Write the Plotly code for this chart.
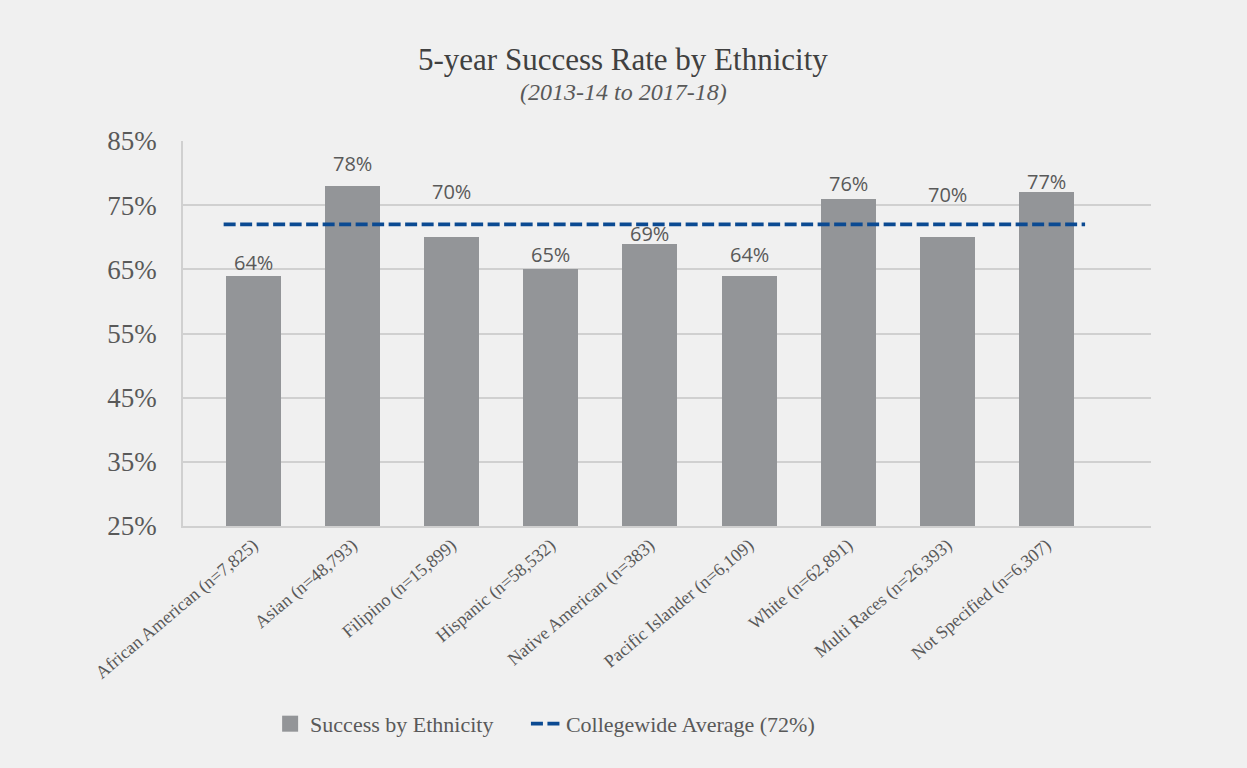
import plotly.graph_objects as go

# Five-year success rate by ethnicity (percent), 2013-14 to 2017-18
categories = [
    "African American (n=7,825)",
    "Asian (n=48,793)",
    "Filipino (n=15,899)",
    "Hispanic (n=58,532)",
    "Native American (n=383)",
    "Pacific Islander (n=6,109)",
    "White (n=62,891)",
    "Multi Races (n=26,393)",
    "Not Specified (n=6,307)",
]
success_rate = [64, 78, 70, 65, 69, 64, 76, 70, 77]
collegewide_avg = 72
y_ticks = [25, 35, 45, 55, 65, 75, 85]

# label offsets above each bar top, in pixels
label_shift = [13, 22, 46, 15, 10, 21, 15, 43, 11]

BG = "#f0f0f0"
BAR = "#939598"
BLUE = "#0b4a92"
TXT = "#595959"
SERIF = "Liberation Serif, Times New Roman, serif"
SANS = "Open Sans, Noto Sans, sans-serif"
NBSP = "\u00a0"

x_idx = list(range(len(categories)))

fig = go.Figure()
fig.add_trace(go.Bar(
    x=x_idx, y=success_rate, width=0.555,
    marker=dict(color=BAR, line=dict(width=0)),
    name="Success by Ethnicity", showlegend=False,
))
# legend swatch for the bars (larger square than the default bar icon)
fig.add_trace(go.Scatter(
    x=[None], y=[None], mode="markers",
    marker=dict(symbol="square", size=17, color=BAR),
    name="Success by Ethnicity" + NBSP * 5,
))

line_x = [-0.3, len(categories) - 0.61]
fig.add_trace(go.Scatter(
    x=line_x, y=[collegewide_avg] * 2, mode="lines",
    line=dict(color=BLUE, width=3.8, dash="12px,4.5px"),
    name=f"Collegewide Average ({collegewide_avg}%)",
))

for i, v in enumerate(success_rate):
    fig.add_annotation(
        x=i, y=v, text=f"{v}%", showarrow=False,
        yanchor="middle", yshift=label_shift[i],
        font=dict(family=SANS, size=20, color=TXT),
    )

fig.add_annotation(
    x=0.455, xref="paper", y=1.2104, yref="paper",
    text="5-year Success Rate by Ethnicity", showarrow=False,
    yanchor="middle", font=dict(family=SERIF, size=31, color="#404040"),
)
fig.add_annotation(
    x=0.455, xref="paper", y=1.127, yref="paper",
    text="<i>(2013-14 to 2017-18)</i>", showarrow=False,
    yanchor="middle", font=dict(family=SERIF, size=24, color=TXT),
)

fig.update_layout(
    width=1247, height=768,
    paper_bgcolor=BG, plot_bgcolor=BG,
    margin=dict(l=183, r=96, t=141, b=242),
    showlegend=True,
    legend=dict(
        orientation="h", x=0.09, xanchor="left", y=-0.514, yanchor="middle",
        font=dict(family=SERIF, size=22, color=TXT),
        bgcolor="rgba(0,0,0,0)", itemwidth=30, itemsizing="trace",
    ),
    bargap=0,
)
fig.update_xaxes(
    range=[-0.71, len(categories) - 1 + 1.055],
    tickmode="array", tickvals=x_idx, ticktext=categories,
    tickangle=-40, tickfont=dict(family=SERIF, size=18, color=TXT),
    showgrid=False, showline=True, linecolor="#d0d0d0", linewidth=1.5,
    ticks="", zeroline=False,
)
fig.update_yaxes(
    range=[25, 85], tickmode="array", tickvals=y_ticks,
    ticktext=[f"{t}%" for t in y_ticks],
    tickfont=dict(family=SERIF, size=27, color=TXT),
    showgrid=True, gridcolor="#d0d0d0", gridwidth=1.5,
    showline=True, linecolor="#d0d0d0", linewidth=1.5,
    ticks="", zeroline=False, ticklabelstandoff=19,
)

fig.write_html("out.html")
